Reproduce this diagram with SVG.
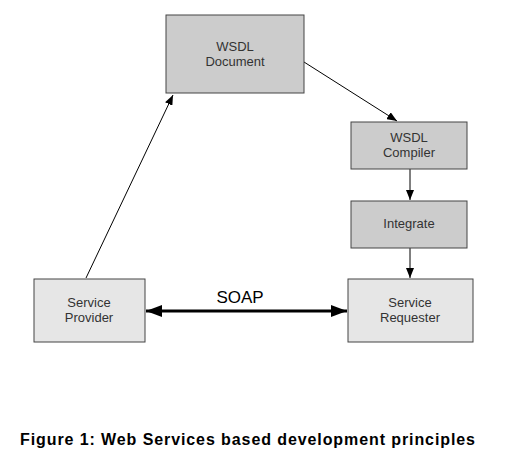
<svg xmlns="http://www.w3.org/2000/svg" width="507" height="454" viewBox="0 0 507 454">
<style>
.dark{fill:#cccccc;stroke:#444;stroke-width:1}
.light{fill:#e6e6e6;stroke:#444;stroke-width:1}
.lbl{font-family:"Liberation Sans",Arial,sans-serif;font-size:13px;fill:#333;text-anchor:middle}
.c{stroke:#000;stroke-width:1;fill:none}
</style>
<defs>
<marker id="ah" markerWidth="10" markerHeight="8" refX="10" refY="4" orient="auto" markerUnits="userSpaceOnUse">
<path d="M0,0 L10,4 L0,8 Z" fill="#000"/>
</marker>
<marker id="bh" markerWidth="16" markerHeight="12" refX="16" refY="6" orient="auto-start-reverse" markerUnits="userSpaceOnUse">
<path d="M0,0 L16,6 L0,12 Z" fill="#000"/>
</marker>
</defs>
<rect width="507" height="454" fill="#fff"/>
<g id="connectors">
<line class="c" x1="86" y1="278" x2="173" y2="95" marker-end="url(#ah)"/>
<line class="c" x1="304" y1="62" x2="397" y2="121" marker-end="url(#ah)"/>
<line class="c" x1="410" y1="169" x2="410" y2="200" marker-end="url(#ah)" stroke="#555"/>
<line class="c" x1="410" y1="248" x2="410" y2="278" marker-end="url(#ah)" stroke="#555"/>
<line x1="146" y1="311" x2="347" y2="311" stroke="#000" stroke-width="3" marker-start="url(#bh)" marker-end="url(#bh)"/>
<text x="240" y="303" font-family="'Liberation Sans',Arial,sans-serif" font-size="17" fill="#000" text-anchor="middle">SOAP</text>
</g>
<g id="wsdl-document">
<rect class="dark" x="166" y="15" width="138" height="78"/>
<text class="lbl" x="235" y="51">WSDL</text>
<text class="lbl" x="235" y="66">Document</text>
</g>
<g id="wsdl-compiler">
<rect class="dark" x="351" y="122" width="116" height="47"/>
<text class="lbl" x="409" y="142">WSDL</text>
<text class="lbl" x="409" y="157">Compiler</text>
</g>
<g id="integrate">
<rect class="dark" x="351" y="201" width="116" height="47"/>
<text class="lbl" x="409" y="228">Integrate</text>
</g>
<g id="service-provider">
<rect class="light" x="34" y="279" width="111" height="63"/>
<text class="lbl" x="89" y="307">Service</text>
<text class="lbl" x="89" y="322">Provider</text>
</g>
<g id="service-requester">
<rect class="light" x="348" y="279" width="125" height="63"/>
<text class="lbl" x="410" y="307">Service</text>
<text class="lbl" x="410" y="322">Requester</text>
</g>
<text x="20" y="445" font-family="'Liberation Sans',Arial,sans-serif" font-size="16" font-weight="bold" fill="#000" textLength="455" lengthAdjust="spacing">Figure 1: Web Services based development principles</text>
</svg>
